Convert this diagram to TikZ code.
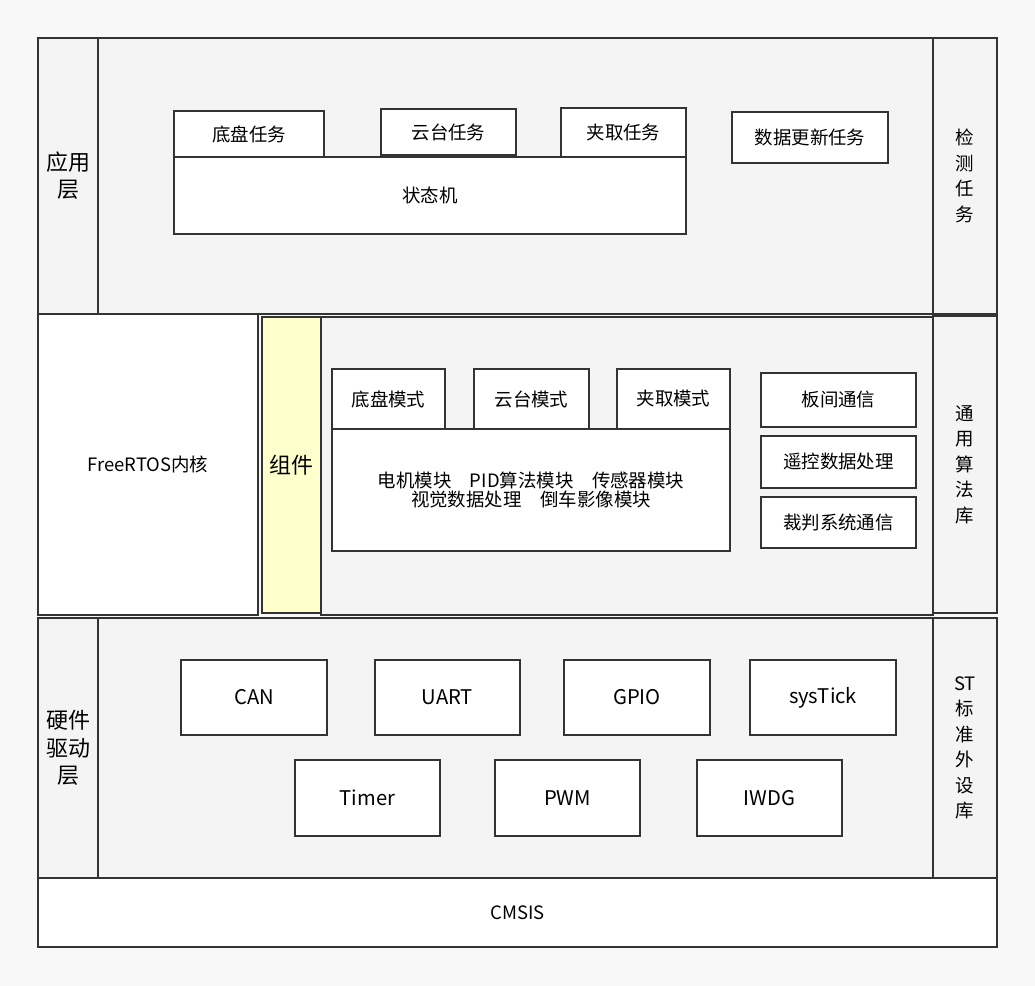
\documentclass[tikz,border=0pt]{standalone}
\usepackage{fontspec}
\setmainfont{Noto Sans CJK SC}
\definecolor{pagebg}{HTML}{F8F8F8}
\definecolor{layerbg}{HTML}{F4F4F4}
\definecolor{linegray}{HTML}{333333}
\definecolor{compyellow}{HTML}{FFFFCC}
\tikzset{
  box/.style={draw=linegray, line width=1.1pt, fill=white, inner sep=0pt, align=center, font=\fontsize{10.5}{12.5}\selectfont},
  hwbox/.style={box, font=\fontsize{11.5}{14}\selectfont},
  layer/.style={box, fill=layerbg, font=\fontsize{10.5}{14.5}\selectfont},
  tag/.style={box, fill=layerbg, font=\fontsize{12.5}{15.5}\selectfont},
}
% block from (x1,y1) to (x2,y2) in pixels
\newcommand{\blk}[7]{%
  \node[#7, minimum width={0.02cm*(#4-#2)}, minimum height={0.02cm*(#5-#3)}]
    (#1) at ({(#2+#4)/2},{-(#3+#5)/2}) {#6};}
\begin{document}
\begin{tikzpicture}[x=0.02cm, y=0.02cm]
  \fill[pagebg] (0,0) rectangle (1035,-986);
  \useasboundingbox (0,0) rectangle (1035,-986);

  % application layer
  \blk{appMain}{98}{38}{933}{314}{}{layer}
  \blk{appTag}{38}{38}{98}{314}{应用\\层}{tag}
  \blk{appCheck}{933}{38}{997}{314}{检\\测\\任\\务}{layer}
  \blk{chassisTask}{174}{111}{324}{157}{底盘任务}{box}
  \blk{gimbalTask}{381}{109}{516}{155}{云台任务}{box}
  \blk{clampTask}{561}{108}{686}{157}{夹取任务}{box}
  \blk{fsm}{174}{157}{686}{234}{状态机}{box}
  \blk{updateTask}{732}{112}{888}{163}{数据更新任务}{box}

  % middle layer
  \blk{rtos}{38}{314}{258}{615}{FreeRTOS内核}{box}
  \blk{midMain}{321}{317}{933}{615}{}{layer}
  \blk{comp}{262}{317}{321}{613}{组件}{tag, fill=compyellow}
  \blk{algLib}{933}{316}{997}{613}{通\\用\\算\\法\\库}{layer}
  \blk{chassisMode}{332}{369}{445}{429}{底盘模式}{box}
  \blk{gimbalMode}{474}{369}{589}{429}{云台模式}{box}
  \blk{clampMode}{617}{369}{730}{429}{夹取模式}{box}
  \blk{modules}{332}{429}{730}{551}{电机模块\quad PID算法模块\quad 传感器模块\\[-2pt]视觉数据处理\quad 倒车影像模块}{box}
  \blk{boardComm}{761}{373}{916}{427}{板间通信}{box}
  \blk{rcData}{761}{436}{916}{488}{遥控数据处理}{box}
  \blk{refComm}{761}{497}{916}{548}{裁判系统通信}{box}

  % driver layer
  \blk{drvMain}{98}{618}{933}{878}{}{layer}
  \blk{drvTag}{38}{618}{98}{878}{硬件\\驱动\\层}{tag}
  \blk{stdLib}{933}{618}{997}{878}{ST\\标\\准\\外\\设\\库}{layer}
  \blk{can}{181}{660}{327}{735}{CAN}{hwbox}
  \blk{uart}{375}{660}{520}{735}{UART}{hwbox}
  \blk{gpio}{564}{660}{710}{735}{GPIO}{hwbox}
  \blk{systick}{750}{660}{896}{735}{sysTick}{hwbox}
  \blk{timer}{295}{760}{440}{836}{Timer}{hwbox}
  \blk{pwm}{495}{760}{640}{836}{PWM}{hwbox}
  \blk{iwdg}{697}{760}{842}{836}{IWDG}{hwbox}

  \blk{cmsis}{38}{878}{997}{947}{CMSIS}{box}
\end{tikzpicture}
\end{document}
